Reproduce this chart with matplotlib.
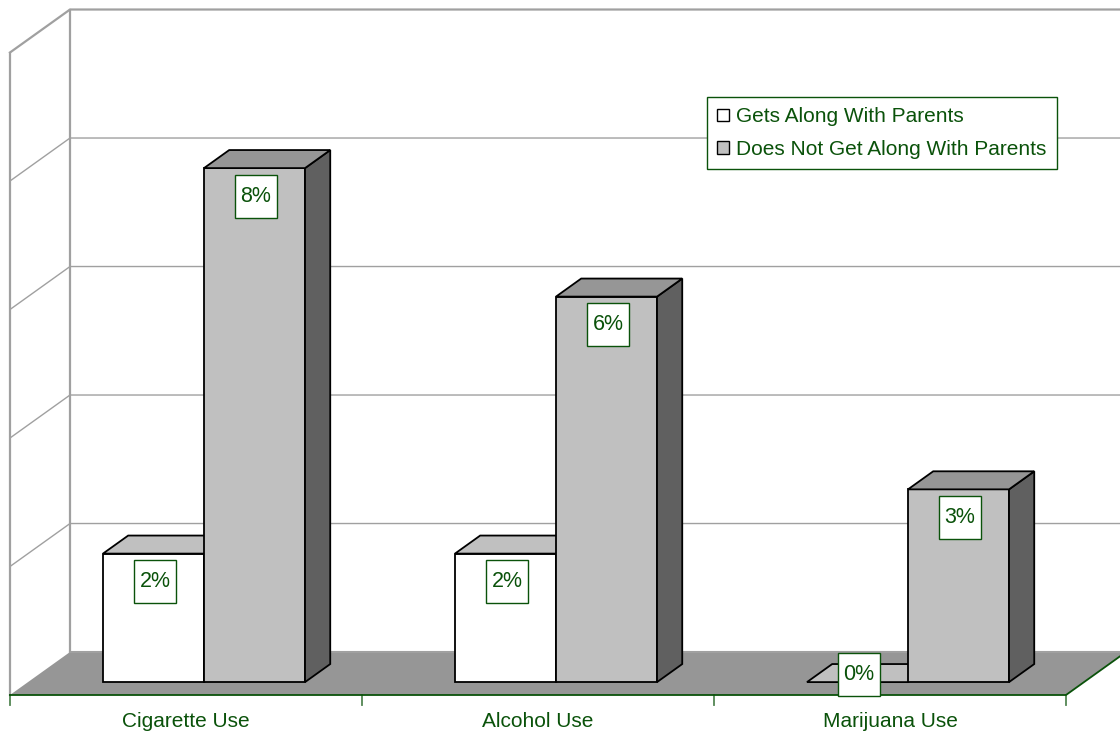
import matplotlib
matplotlib.use("Agg")
import matplotlib.pyplot as plt
from matplotlib.patches import Polygon, Rectangle

plt.rcParams['font.family'] = ['Liberation Sans', 'DejaVu Sans']

# data (percent)
categories = ['Cigarette Use', 'Alcohol Use', 'Marijuana Use']
series = ['Gets Along With Parents', 'Does Not Get Along With Parents']
gets_along = [2, 2, 0]
not_along = [8, 6, 3]
y_max = 10
y_step = 2

face_colors = ['#ffffff', '#c0c0c0']
top_colors = ['#c0c0c0', '#969696']
side_colors = ['#808080', '#606060']
green = '#0a520a'
wall_grey = '#a0a0a0'

# oblique projection for the fake 3D look
DX, DY = 0.1705, 0.669   # depth offset (data units) of the back wall
Z_FRONT, Z_BACK = 0.3, 0.72
BAR_W = 0.287


def proj(x, y, z):
    return (x + z * DX, y + z * DY)


fig = plt.figure(figsize=(11.2, 7.37), dpi=100)
ax = fig.add_axes([0, 0, 1, 1])
ax.set_xlim(-10 / 352, 1110 / 352)
ax.set_ylim(-42 / 64.25, 695 / 64.25)
ax.axis('off')

n = len(categories)

# back and side walls
wall_pts = [proj(0, 0, 1), proj(n, 0, 1), proj(n, y_max, 1), proj(0, y_max, 1)]
ax.add_patch(Polygon(wall_pts, closed=True, facecolor='white', edgecolor='none', zorder=1))
for yv in range(y_step, y_max + 1, y_step):
    a, b, c = proj(0, yv, 0), proj(0, yv, 1), proj(n, yv, 1)
    lw = 1.6 if yv == y_max else 1.0
    ax.plot([a[0], b[0], c[0]], [a[1], b[1], c[1]], color=wall_grey, lw=lw, zorder=2)
for z in (0, 1):
    p0, p1 = proj(0, 0, z), proj(0, y_max, z)
    ax.plot([p0[0], p1[0]], [p0[1], p1[1]], color=wall_grey, lw=1.6, zorder=2)

# floor
floor = [proj(0, 0, 0), proj(n, 0, 0), proj(n, 0, 1), proj(0, 0, 1)]
ax.add_patch(Polygon(floor, closed=True, facecolor='#969696', edgecolor='none', zorder=3))
fb0, fb1 = proj(0, 0, 1), proj(n, 0, 1)
ax.plot([fb0[0], fb1[0]], [fb0[1], fb1[1]], color=wall_grey, lw=1.5, zorder=3)
ff0, ff1, fr1 = proj(0, 0, 0), proj(n, 0, 0), proj(n, 0, 1)
ax.plot([ff0[0], ff1[0], fr1[0]], [ff0[1], ff1[1], fr1[1]], color=green, lw=1.3, zorder=4)
for i in range(n + 1):
    ax.plot([i, i], [0, -0.16], color=green, lw=1.3, alpha=0.7, zorder=4)

# bars
for i in range(n):
    vals = [gets_along[i], not_along[i]]
    start = i + 0.5 - BAR_W
    for s, h in enumerate(vals):
        x0 = start + s * BAR_W
        x1 = x0 + BAR_W
        front = [proj(x0, 0, Z_FRONT), proj(x1, 0, Z_FRONT), proj(x1, h, Z_FRONT), proj(x0, h, Z_FRONT)]
        top = [proj(x0, h, Z_FRONT), proj(x1, h, Z_FRONT), proj(x1, h, Z_BACK), proj(x0, h, Z_BACK)]
        side = [proj(x1, 0, Z_FRONT), proj(x1, 0, Z_BACK), proj(x1, h, Z_BACK), proj(x1, h, Z_FRONT)]
        for pts, fc in ((front, face_colors[s]), (side, side_colors[s]), (top, top_colors[s])):
            ax.add_patch(Polygon(pts, closed=True, facecolor=fc, edgecolor='black',
                                 lw=1.3, joinstyle='miter', zorder=5 + i * 4 + s))
        # data label box
        cx, cy = proj(x0 + BAR_W / 2 + 0.004, max(h - 0.436, 0.125), Z_FRONT)
        bw, bh = 42 / 352, 43 / 64.25
        ax.add_patch(Rectangle((cx - bw / 2, cy - bh / 2), bw, bh, facecolor='white',
                               edgecolor=green, lw=1.0, zorder=30))
        ax.text(cx, cy, f'{h:.0f}%', ha='center', va='center', fontsize=15.5,
                color=green, zorder=31)

# category labels
for i, cat in enumerate(categories):
    ax.text(i + 0.5, -0.42, cat, ha='center', va='center', fontsize=15, color=green)

# legend
handles = [Rectangle((0, 0), 1, 1, facecolor=face_colors[k], edgecolor='black', lw=1.0)
           for k in range(len(series))]
leg = ax.legend(handles, series, loc='upper left', bbox_to_anchor=(707 / 1120, 1 - 97 / 737),
                bbox_transform=fig.transFigure, borderaxespad=0, fontsize=15,
                fancybox=False, framealpha=1, edgecolor=green, handlelength=0.55,
                handleheight=0.55, handletextpad=0.35, labelspacing=0.65,
                borderpad=0.5)
leg.get_frame().set_linewidth(1.0)
for t in leg.get_texts():
    t.set_color(green)
leg.set_zorder(40)

fig.savefig('out.png', dpi=100)
